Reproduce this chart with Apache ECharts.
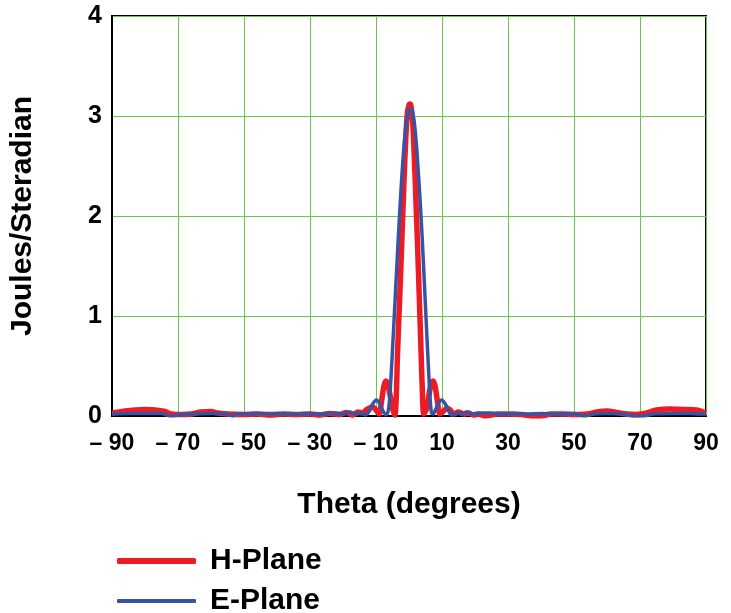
<!DOCTYPE html>
<html>
<head>
<meta charset="utf-8">
<script src="https://cdn.jsdelivr.net/npm/echarts@6/dist/echarts.min.js"></script>
<style>
html,body{margin:0;padding:0;background:#fff;}
#chart{width:731px;height:613px;}
</style>
</head>
<body>
<div id="chart"></div>
<script>
// H-Plane (red) : theta in degrees, value in Joules/Steradian
const thetaH = [-90,-88,-86,-83,-80,-77,-74,-72,-69,-66,-63,-60,-58,-55,-50,-46,-42,-38,-34,-30,-27,-24,-21,-19,-17,-15.5,-14,-13,-12,-11,-10,-9.1,-8.3,-7.6,-7.0,-6.5,-5.8,-5.0,-4.3,-3.9,-3.5,-3.0,-2.5,-2.0,-1.5,-1.0,-0.5,0.0,0.3,0.6,1.1,1.6,2.1,2.6,3.1,3.6,4.0,4.5,5.4,6.2,6.8,7.3,7.9,8.6,9.4,10.5,11.5,12.5,13.5,15,16.5,18,19.5,21,23,25,27,30,34,38,40,43,47,50,54,57,60,63,66,69,72,75,79,83,87,90];
const valuesH = [0.03,0.04,0.05,0.06,0.065,0.06,0.045,0.02,0.015,0.02,0.04,0.045,0.03,0.02,0.015,0.02,0.01,0.02,0.015,0.02,0.01,0.025,0.015,0.035,0.01,0.04,0.03,0.06,0.08,0.09,0.06,0.02,0.15,0.3,0.35,0.33,0.22,0.08,0.01,0.15,0.6,1.03,1.45,1.91,2.36,2.76,3.03,3.11,3.12,3.1,2.95,2.6,2.15,1.7,1.2,0.7,0.3,0.02,0.08,0.24,0.33,0.35,0.3,0.15,0.02,0.05,0.08,0.06,0.02,0.04,0.02,0.03,0.01,0.02,0.0,0.01,0.02,0.02,0.015,0.0,0.0,0.02,0.02,0.015,0.02,0.04,0.05,0.035,0.02,0.015,0.03,0.06,0.07,0.065,0.06,0.03];

// E-Plane (blue)
const thetaE = [-90,-85,-80,-75,-72.5,-70,-66,-60,-56,-53.5,-52,-47,-40,-35,-30,-26,-23,-20,-18,-16,-14.5,-13.1,-12,-11,-9.9,-9,-8,-7.0,-6.3,-5.8,-5.3,-4.7,-4.0,-3.25,-2.5,-1.75,-1.0,-0.3,0.4,1.1,1.8,2.5,3.25,4.0,4.7,5.35,5.9,6.35,6.8,7.3,8,9,9.9,11,12,12.9,14.5,16,17.5,19,22,25,28,32,36,40,45,50,53.5,56,60,65,68,71,74,80,85,88,90];
const valuesE = [0.02,0.025,0.025,0.025,0.0,0.01,0.02,0.025,0.025,0.0,0.02,0.025,0.025,0.02,0.025,0.02,0.03,0.02,0.04,0.02,0.03,0.01,0.05,0.12,0.16,0.13,0.06,0.01,0.05,0.2,0.48,0.85,1.3,1.78,2.22,2.6,2.88,3.03,3.07,3.03,2.88,2.6,2.22,1.78,1.3,0.85,0.48,0.2,0.03,0.02,0.06,0.13,0.16,0.12,0.05,0.01,0.03,0.02,0.04,0.02,0.03,0.03,0.02,0.025,0.02,0.025,0.02,0.025,0.0,0.02,0.025,0.02,0.0,0.0,0.02,0.025,0.025,0.02,0.02];

const seriesNames = ['H-Plane','E-Plane'];
const xMin = -90, xMax = 90, xStep = 20;
const yMin = 0, yMax = 4, yStep = 1;
const xTitle = 'Theta (degrees)';
const yTitle = 'Joules/Steradian';

const zip = (a,b) => a.map((t,i) => [t,b[i]]);
const FONT = '"Liberation Sans", Arial, sans-serif';

const chart = echarts.init(document.getElementById('chart'), null, {renderer:'canvas'});
chart.setOption({
  animation:false,
  backgroundColor:'#fff',
  grid:{left:110.5,right:25,top:16,bottom:197,show:true,borderColor:'#000',borderWidth:2,containLabel:false},
  xAxis:{
    type:'value',min:xMin,max:xMax,interval:xStep,
    name:xTitle,nameLocation:'middle',nameGap:74,
    nameTextStyle:{fontFamily:FONT,fontSize:30,fontWeight:'bold',color:'#000'},
    axisLine:{show:true,onZero:false,lineStyle:{color:'#000',width:2}},
    axisTick:{show:false},
    axisLabel:{margin:16,fontFamily:FONT,fontSize:23,fontWeight:'bold',color:'#000',
      formatter:v => v<0 ? '\u2013 ' + Math.abs(v) : String(v)},
    splitLine:{show:true,lineStyle:{color:'#72c452',width:1}}
  },
  yAxis:{
    type:'value',min:yMin,max:yMax,interval:yStep,
    name:yTitle,nameLocation:'middle',nameGap:74,nameRotate:90,
    nameTextStyle:{fontFamily:FONT,fontSize:30,fontWeight:'bold',color:'#000'},
    axisLine:{show:true,onZero:false,lineStyle:{color:'#000',width:2}},
    axisTick:{show:false},
    axisLabel:{margin:10,fontFamily:FONT,fontSize:25,fontWeight:'bold',color:'#000',padding:[4,0,0,0]},
    splitLine:{show:true,lineStyle:{color:'#72c452',width:1}}
  },
  legend:[
    {data:[seriesNames[0]],left:112,top:541,icon:'roundRect',itemWidth:79,itemHeight:6,
     textStyle:{fontFamily:FONT,fontSize:30,fontWeight:'bold',color:'#000',padding:[0,0,0,9]}},
    {data:[seriesNames[1]],left:112,top:581,icon:'roundRect',itemWidth:79,itemHeight:4,
     textStyle:{fontFamily:FONT,fontSize:30,fontWeight:'bold',color:'#000',padding:[0,0,0,9]}}
  ],
  series:[
    {name:seriesNames[0],type:'line',data:zip(thetaH,valuesH),showSymbol:false,smooth:0.3,
     color:'#ed1c24',lineStyle:{color:'#ed1c24',width:5.5},z:2},
    {name:seriesNames[1],type:'line',data:zip(thetaE,valuesE),showSymbol:false,smooth:0.3,
     color:'#3953a4',lineStyle:{color:'#3953a4',width:3.5},z:3}
  ]
});
</script>
</body>
</html>
